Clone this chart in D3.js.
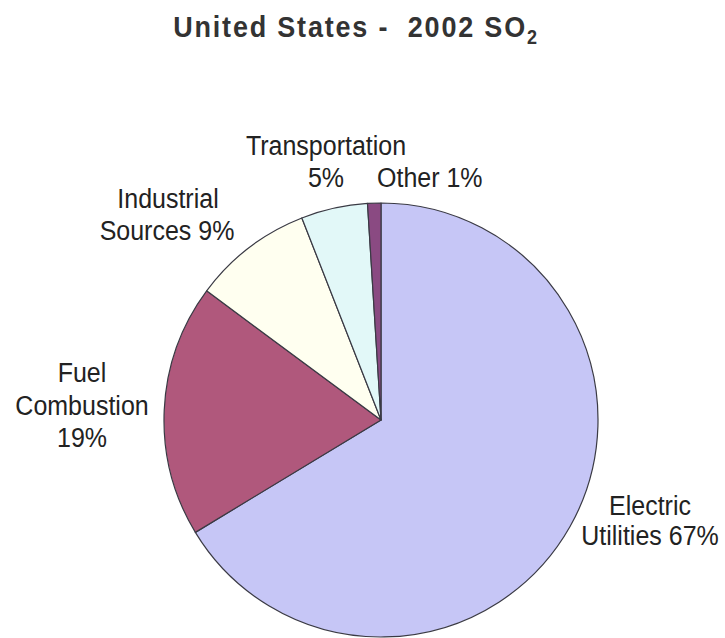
<!DOCTYPE html>
<html>
<head>
<meta charset="utf-8">
<script src="https://cdn.jsdelivr.net/npm/d3@7"></script>
<style>
  html, body { margin: 0; padding: 0; background: #fff; }
  svg { display: block; }
  text { font-family: "Liberation Sans", Arial, sans-serif; fill: #222; }
</style>
</head>
<body>
<svg id="chart" width="725" height="638"></svg>
<script>
// 2002 US SO2 emissions by source, percent of total
const categories = ["Electric Utilities", "Fuel Combustion", "Industrial Sources", "Transportation", "Other"];
const shares = [67, 19, 9, 5, 1];
const sliceColors = ["#c6c6f6", "#b0587c", "#fffff0", "#e2f8f8", "#8a4a82"];
// label lines for each slice
const labelLines = [
  ["Electric", "Utilities 67%"],
  ["Fuel", "Combustion", "19%"],
  ["Industrial", "Sources 9%"],
  ["Transportation", "5%"],
  ["Other 1%"]
];

const cx = 381, cy = 420, radius = 217;
const stretch = 1.12; // labels use a slightly tall typeface

const svg = d3.select("#chart");

// title with subscript 2
const title = svg.append("text")
  .attr("transform", `translate(356,37) scale(1,${stretch})`)
  .attr("text-anchor", "middle")
  .attr("xml:space", "preserve")
  .style("font-size", "27px")
  .style("font-weight", "bold")
  .style("letter-spacing", "1.8px")
  .style("fill", "#333");
title.append("tspan").text("United States -  2002 SO");
title.append("tspan").text("2").attr("dy", 6).style("font-size", "18px");

const data = categories.map((c, i) => ({ name: c, value: shares[i], color: sliceColors[i], lines: labelLines[i] }));

const pie = d3.pie().value(d => d.value).sort(null).startAngle(0).endAngle(2 * Math.PI);
const arc = d3.arc().innerRadius(0).outerRadius(radius);

const g = svg.append("g").attr("transform", `translate(${cx},${cy})`);
g.selectAll("path")
  .data(pie(data))
  .join("path")
  .attr("d", arc)
  .attr("fill", d => d.data.color)
  .attr("stroke", "#3a3a44")
  .attr("stroke-width", 1.2)
  .attr("stroke-linejoin", "round");

// label block positions: x of each line, first baseline, line gap
const labelPos = [
  { xs: [650, 650], y: 515, gap: 30, anchor: "middle" },
  { xs: [82, 82, 82], y: 382, gap: 32.5, anchor: "middle" },
  { xs: [168, 167], y: 208, gap: 32, anchor: "middle" },
  { xs: [326, 326], y: 155, gap: 32, anchor: "middle" },
  { xs: [377], y: 187, gap: 32, anchor: "start" }
];

data.forEach((d, i) => {
  const p = labelPos[i];
  d.lines.forEach((line, j) => {
    svg.append("text")
      .attr("transform", `translate(${p.xs[j]},${p.y + j * p.gap}) scale(1,${stretch})`)
      .attr("text-anchor", p.anchor)
      .style("font-size", "25px")
      .text(line);
  });
});
</script>
</body>
</html>
